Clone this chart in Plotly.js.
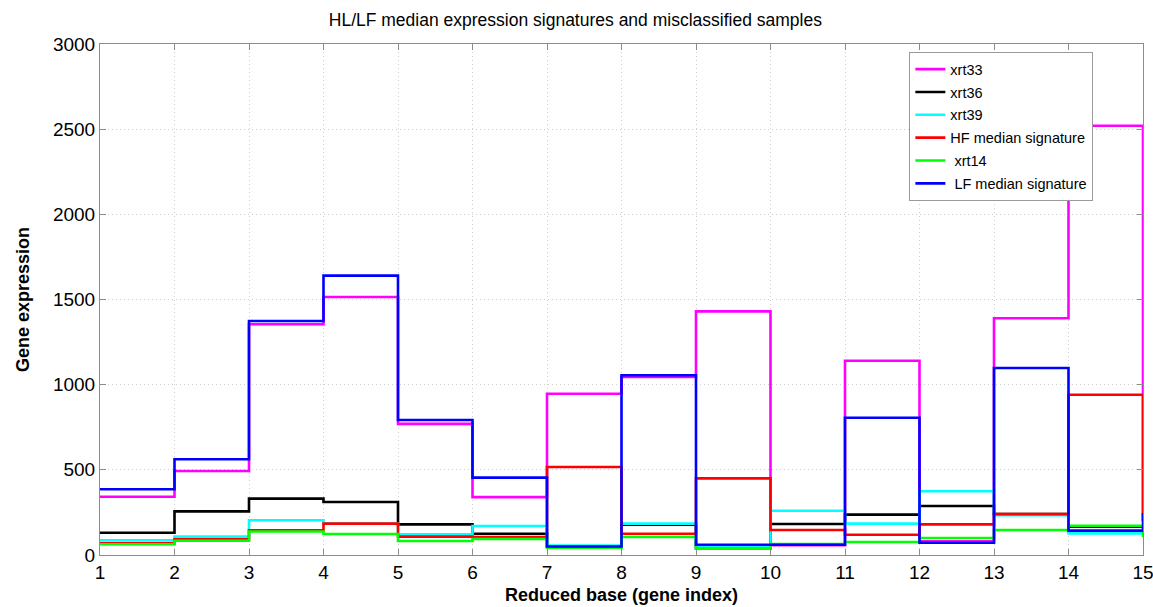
<!DOCTYPE html>
<html>
<head>
<meta charset="utf-8">
<script src="https://cdn.plot.ly/plotly-3.0.1.min.js"></script>
<style>html,body{margin:0;padding:0;background:#fff;}#chart{width:1153px;height:607px;}</style>
</head>
<body>
<div id="chart"></div>
<script>
// Gene index (reduced base)
var geneIndex = [1,2,3,4,5,6,7,8,9,10,11,12,13,14,15];
// Series values (stairs plot)
var xrt33 = [342, 493, 1355, 1515, 770, 340, 947, 1045, 1430, 58, 1140, 80, 1390, 2520, 200];
var xrt36 = [131, 256, 331, 311, 180, 125, 50, 178, 40, 182, 237, 288, 241, 166, 166];
var xrt39 = [86, 108, 204, 184, 121, 170, 55, 184, 50, 260, 184, 374, 233, 127, 127];
var hfMedian = [69, 92, 145, 184, 108, 106, 517, 125, 450, 147, 119, 180, 240, 941, 200];
var xrt14 = [63, 84, 138, 123, 82, 94, 43, 106, 37, 65, 76, 100, 147, 172, 105];
var lfMedian = [386, 562, 1374, 1640, 793, 454, 50, 1055, 60, 60, 806, 72, 1098, 143, 246];

var seriesNames = ["xrt33", "xrt36", "xrt39", "HF median signature", " xrt14", " LF median signature"];
var seriesValues = [xrt33, xrt36, xrt39, hfMedian, xrt14, lfMedian];
var seriesColors = ["#ff00ff", "#000000", "#00ffff", "#ff0000", "#00ff00", "#0000ff"];

var traces = seriesValues.map(function(v, i){
  return {
    x: geneIndex, y: v, type: 'scatter', mode: 'lines',
    line: {shape: 'hv', color: seriesColors[i], width: 2.6},
    name: seriesNames[i], legendgroup: 'g' + i
  };
});

var axisCommon = {
  showline: true, linecolor: '#8c8c8c', linewidth: 1, mirror: 'ticks',
  ticks: 'inside', ticklen: 6, tickcolor: '#8c8c8c',
  showgrid: true, gridcolor: '#cfcfcf', griddash: '1px,3px', gridwidth: 1,
  zeroline: false, ticklabeloverflow: 'allow',
  tickfont: {family: 'Liberation Sans, Arial, sans-serif', size: 19, color: '#000'}
};

var layout = {
  width: 1153, height: 607,
  margin: {l: 100, r: 10, t: 44, b: 52},
  paper_bgcolor: '#fff', plot_bgcolor: '#fff',
  title: {text: 'HL/LF median expression signatures and misclassified samples',
          font: {family: 'Liberation Sans, Arial, sans-serif', size: 17.5, color: '#000'},
          x: 0.499, xanchor: 'center', y: 0.967, yanchor: 'middle', yref: 'container'},
  xaxis: Object.assign({}, axisCommon, {
    range: [1, 15], tickmode: 'array', tickvals: geneIndex,
    title: {text: 'Reduced base (gene index)', standoff: 6,
            font: {family: 'Liberation Sans, Arial, sans-serif', size: 18, color: '#000', weight: 'bold'}}
  }),
  yaxis: Object.assign({}, axisCommon, {
    range: [0, 3000], tickmode: 'array', tickvals: [0,500,1000,1500,2000,2500,3000],
    title: {text: 'Gene expression', standoff: 18,
            font: {family: 'Liberation Sans, Arial, sans-serif', size: 18, color: '#000', weight: 'bold'}}
  }),
  showlegend: true,
  legend: {
    x: 0.776, xanchor: 'left', y: 0.984, yanchor: 'top',
    bgcolor: '#ffffff', bordercolor: '#9a9a9a', borderwidth: 1,
    font: {family: 'Liberation Sans, Arial, sans-serif', size: 14.5, color: '#000'},
    tracegroupgap: 1, itemwidth: 30
  }
};

Plotly.newPlot('chart', traces, layout, {displayModeBar: false, staticPlot: true});
</script>
</body>
</html>
